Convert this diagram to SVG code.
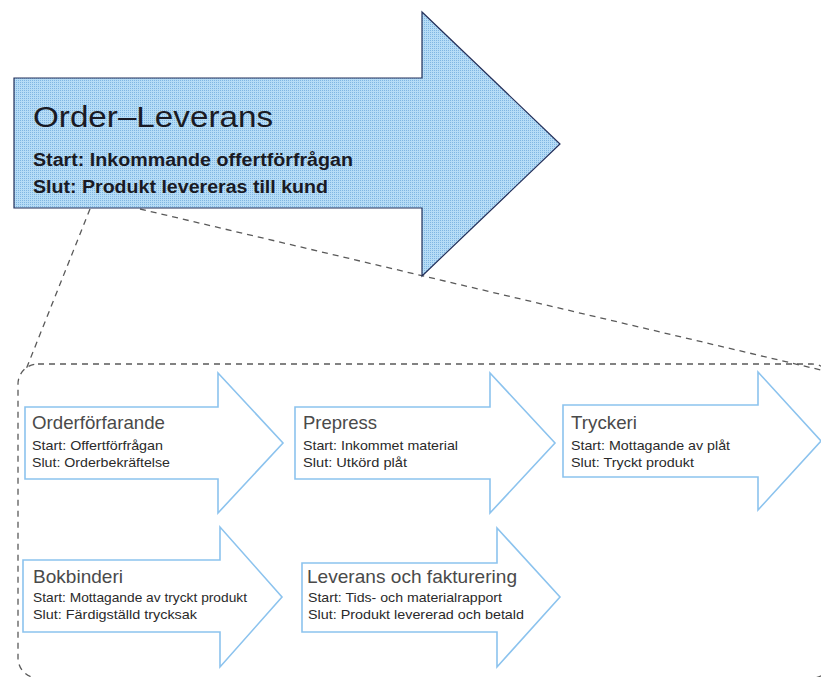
<svg xmlns="http://www.w3.org/2000/svg" width="821" height="677" viewBox="0 0 821 677">
  <defs>
    <!-- dithered light-blue fill for the main process arrow -->
    <pattern id="dither" width="2" height="2" patternUnits="userSpaceOnUse">
      <rect width="2" height="2" fill="#b6dcf6"/>
      <rect width="1" height="1" fill="#80b6e2"/>
    </pattern>
    <style>
      .main-arrow { fill: url(#dither); stroke: #24305a; stroke-width: 1.2; }
      .sub-arrow { fill: #ffffff; stroke: #8cc3ee; stroke-width: 1.6; stroke-linejoin: miter; }
      .zoom-line { fill: none; stroke: #5a5a5a; stroke-width: 1.3; stroke-dasharray: 6 5; }
      .main-title { font-family: "Liberation Sans", Arial, sans-serif; font-size: 30px; fill: #1a1a24; }
      .main-detail { font-family: "Liberation Sans", Arial, sans-serif; font-size: 18px; font-weight: bold; fill: #1a1a24; }
      .sub-title { font-family: "Liberation Sans", Arial, sans-serif; font-size: 19px; fill: #4a4a4a; }
      .sub-detail { font-family: "Liberation Sans", Arial, sans-serif; font-size: 13.5px; fill: #2a2a2a; }
    </style>
  </defs>

  <!-- dashed zoom-out frame and the lines leading to it -->
  <g id="connectors">
    <rect class="zoom-line" x="18" y="364" width="814" height="314" rx="20" ry="20"/>
    <line class="zoom-line" x1="90" y1="209" x2="25" y2="372"/>
    <line class="zoom-line" x1="140" y1="209" x2="821" y2="370"/>
  </g>

  <!-- top-level process -->
  <g id="order-leverans">
    <path class="main-arrow" d="M14,78 H422 V12 L560,144 L422,276 V208 H14 Z"/>
    <text class="main-title" x="33" y="127" textLength="240" lengthAdjust="spacingAndGlyphs">Order–Leverans</text>
    <text class="main-detail" x="33" y="166" textLength="320" lengthAdjust="spacingAndGlyphs">Start: Inkommande offertförfrågan</text>
    <text class="main-detail" x="33" y="193" textLength="295" lengthAdjust="spacingAndGlyphs">Slut: Produkt levereras till kund</text>
  </g>

  <!-- sub-processes -->
  <g id="orderforfarande">
    <path class="sub-arrow" d="M25,407 H218 V373 L283,443 L218,513 V479 H25 Z"/>
    <text class="sub-title" x="32" y="428.5" textLength="133" lengthAdjust="spacingAndGlyphs">Orderförfarande</text>
    <text class="sub-detail" x="32" y="450" textLength="131" lengthAdjust="spacingAndGlyphs">Start: Offertförfrågan</text>
    <text class="sub-detail" x="32" y="467" textLength="138" lengthAdjust="spacingAndGlyphs">Slut: Orderbekräftelse</text>
  </g>

  <g id="prepress">
    <path class="sub-arrow" d="M295,407 H490 V373 L555,443 L490,513 V479 H295 Z"/>
    <text class="sub-title" x="303" y="428.5" textLength="74" lengthAdjust="spacingAndGlyphs">Prepress</text>
    <text class="sub-detail" x="303" y="450" textLength="155" lengthAdjust="spacingAndGlyphs">Start: Inkommet material</text>
    <text class="sub-detail" x="303" y="467" textLength="104" lengthAdjust="spacingAndGlyphs">Slut: Utkörd plåt</text>
  </g>

  <g id="tryckeri">
    <path class="sub-arrow" d="M563,405 H758 V372 L821,441 L758,510 V477 H563 Z"/>
    <text class="sub-title" x="571" y="428.5" textLength="66" lengthAdjust="spacingAndGlyphs">Tryckeri</text>
    <text class="sub-detail" x="571" y="450" textLength="159" lengthAdjust="spacingAndGlyphs">Start: Mottagande av plåt</text>
    <text class="sub-detail" x="571" y="467" textLength="123" lengthAdjust="spacingAndGlyphs">Slut: Tryckt produkt</text>
  </g>

  <g id="bokbinderi">
    <path class="sub-arrow" d="M23,560 H220 V527 L282,597 L220,667 V632 H23 Z"/>
    <text class="sub-title" x="33" y="583" textLength="90" lengthAdjust="spacingAndGlyphs">Bokbinderi</text>
    <text class="sub-detail" x="33" y="602" textLength="214" lengthAdjust="spacingAndGlyphs">Start: Mottagande av tryckt produkt</text>
    <text class="sub-detail" x="33" y="619" textLength="164" lengthAdjust="spacingAndGlyphs">Slut: Färdigställd trycksak</text>
  </g>

  <g id="leverans-fakturering">
    <path class="sub-arrow" d="M302,563 H497 V528 L560,597 L497,667 V632 H302 Z"/>
    <text class="sub-title" x="307" y="583" textLength="210" lengthAdjust="spacingAndGlyphs">Leverans och fakturering</text>
    <text class="sub-detail" x="308" y="602" textLength="194" lengthAdjust="spacingAndGlyphs">Start: Tids- och materialrapport</text>
    <text class="sub-detail" x="308" y="619" textLength="216" lengthAdjust="spacingAndGlyphs">Slut: Produkt levererad och betald</text>
  </g>
</svg>
